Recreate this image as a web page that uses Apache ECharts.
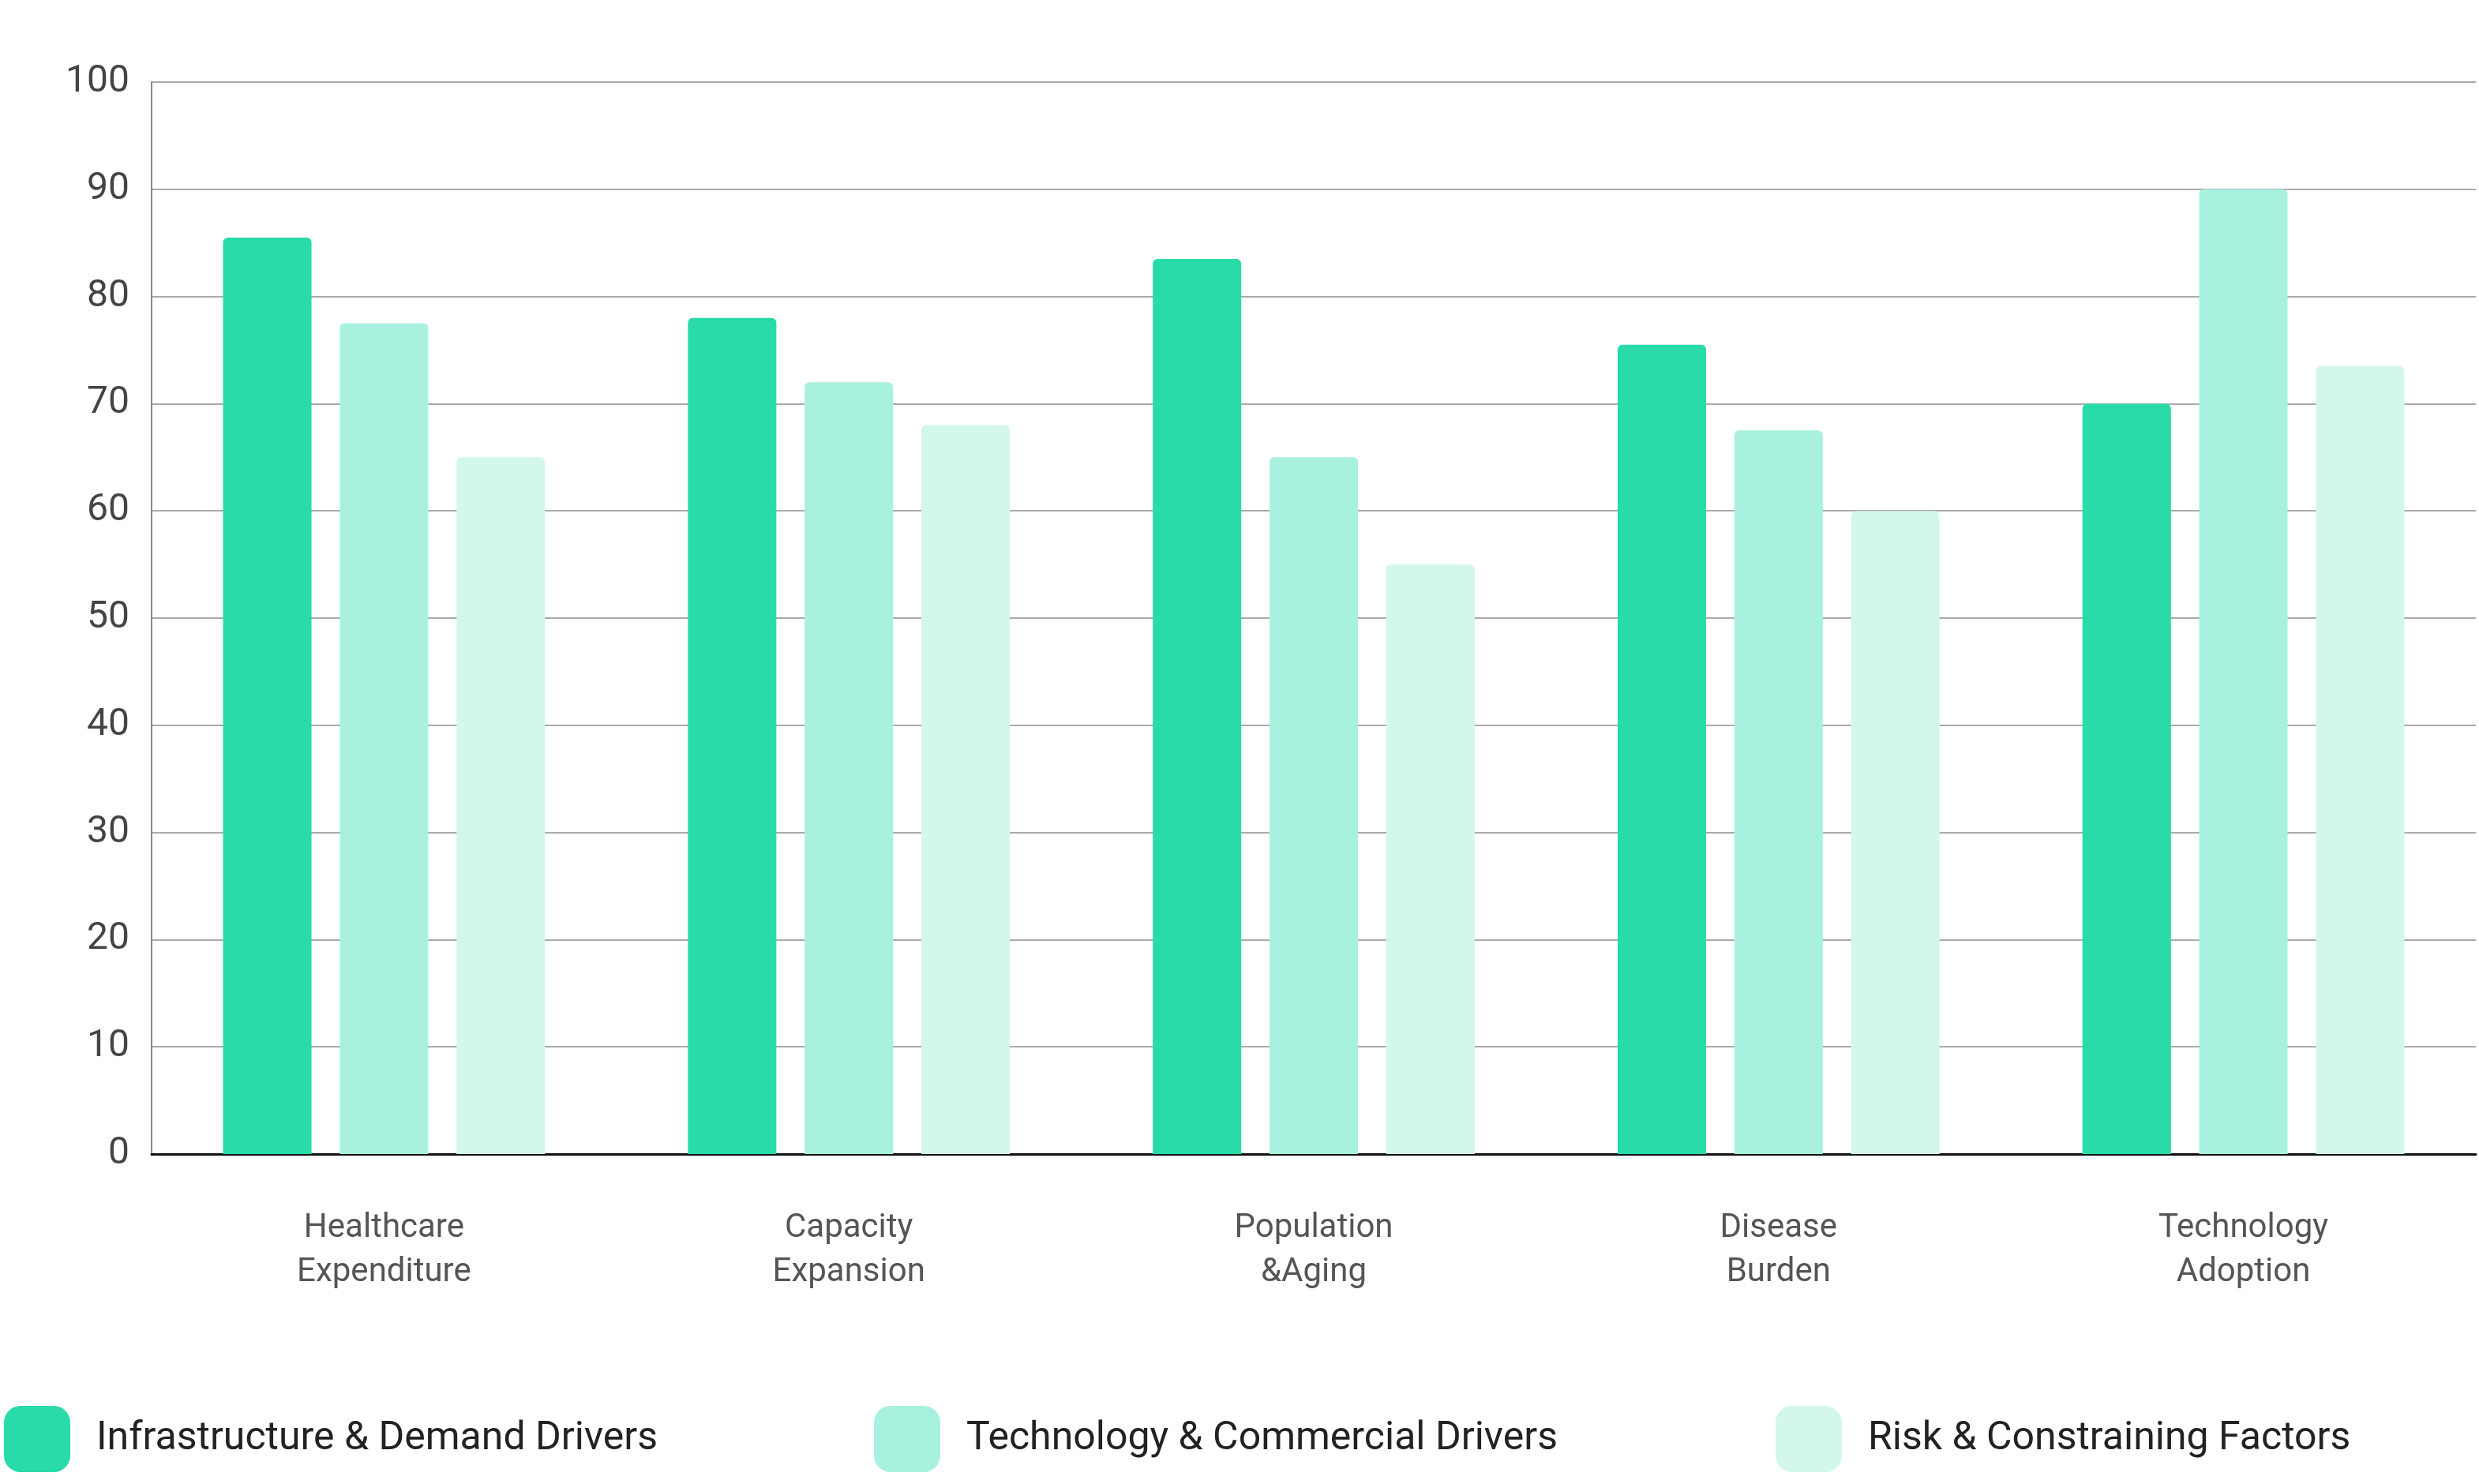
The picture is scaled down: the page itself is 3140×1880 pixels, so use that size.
<!DOCTYPE html>
<html><head><meta charset="utf-8">
<script src="https://cdn.jsdelivr.net/npm/echarts@6/dist/echarts.min.js"></script>
<style>html,body{margin:0;background:#fff}#c{width:3140px;height:1880px}</style>
</head><body><div id="c"></div>
<script>
const categories = ["Healthcare\nExpenditure", "Capacity\nExpansion", "Population\n&Aging", "Disease\nBurden", "Technology\nAdoption"];
const infrastructure = [85.5, 78, 83.5, 75.5, 70];
const technology = [77.5, 72, 65, 67.5, 90];
const risk = [65, 68, 55, 60, 73.5];
const seriesNames = ["Infrastructure & Demand Drivers", "Technology & Commercial Drivers", "Risk & Constraining Factors"];
const colors = ["#29DBA8", "#A9F1DF", "#D3F7EC"];

const chart = echarts.init(document.getElementById("c"));
const legendAt = (name, left) => ({
  data: [name], left: left, top: 1776, itemWidth: 84, itemHeight: 84,
  icon: "roundRect",
  textStyle: { fontSize: 50, color: "#222", fontFamily: "Roboto", padding: [0, 0, 0, 28] }
});
chart.setOption({
  textStyle: { fontFamily: "Roboto" },
  grid: { left: 192, right: 4, top: 104, bottom: 418 },
  legend: [legendAt(seriesNames[0], 0), legendAt(seriesNames[1], 1102), legendAt(seriesNames[2], 2244)],
  xAxis: {
    type: "category", data: categories,
    axisLine: { lineStyle: { color: "#111", width: 3 } },
    axisTick: { show: false },
    axisLabel: { fontSize: 42, color: "#555", lineHeight: 56, margin: 66 }
  },
  yAxis: {
    type: "value", min: 0, max: 100, interval: 10,
    axisLine: { show: true, lineStyle: { color: "#888", width: 2 } },
    axisLabel: { fontSize: 48, color: "#444", margin: 28 },
    splitLine: { lineStyle: { color: "#aaa", width: 2 } }
  },
  series: [infrastructure, technology, risk].map((d, i) => ({
    name: seriesNames[i], type: "bar", data: d, barWidth: 112, barGap: "32%",
    itemStyle: { color: colors[i], borderRadius: [6, 6, 0, 0] }
  }))
});
</script></body></html>
